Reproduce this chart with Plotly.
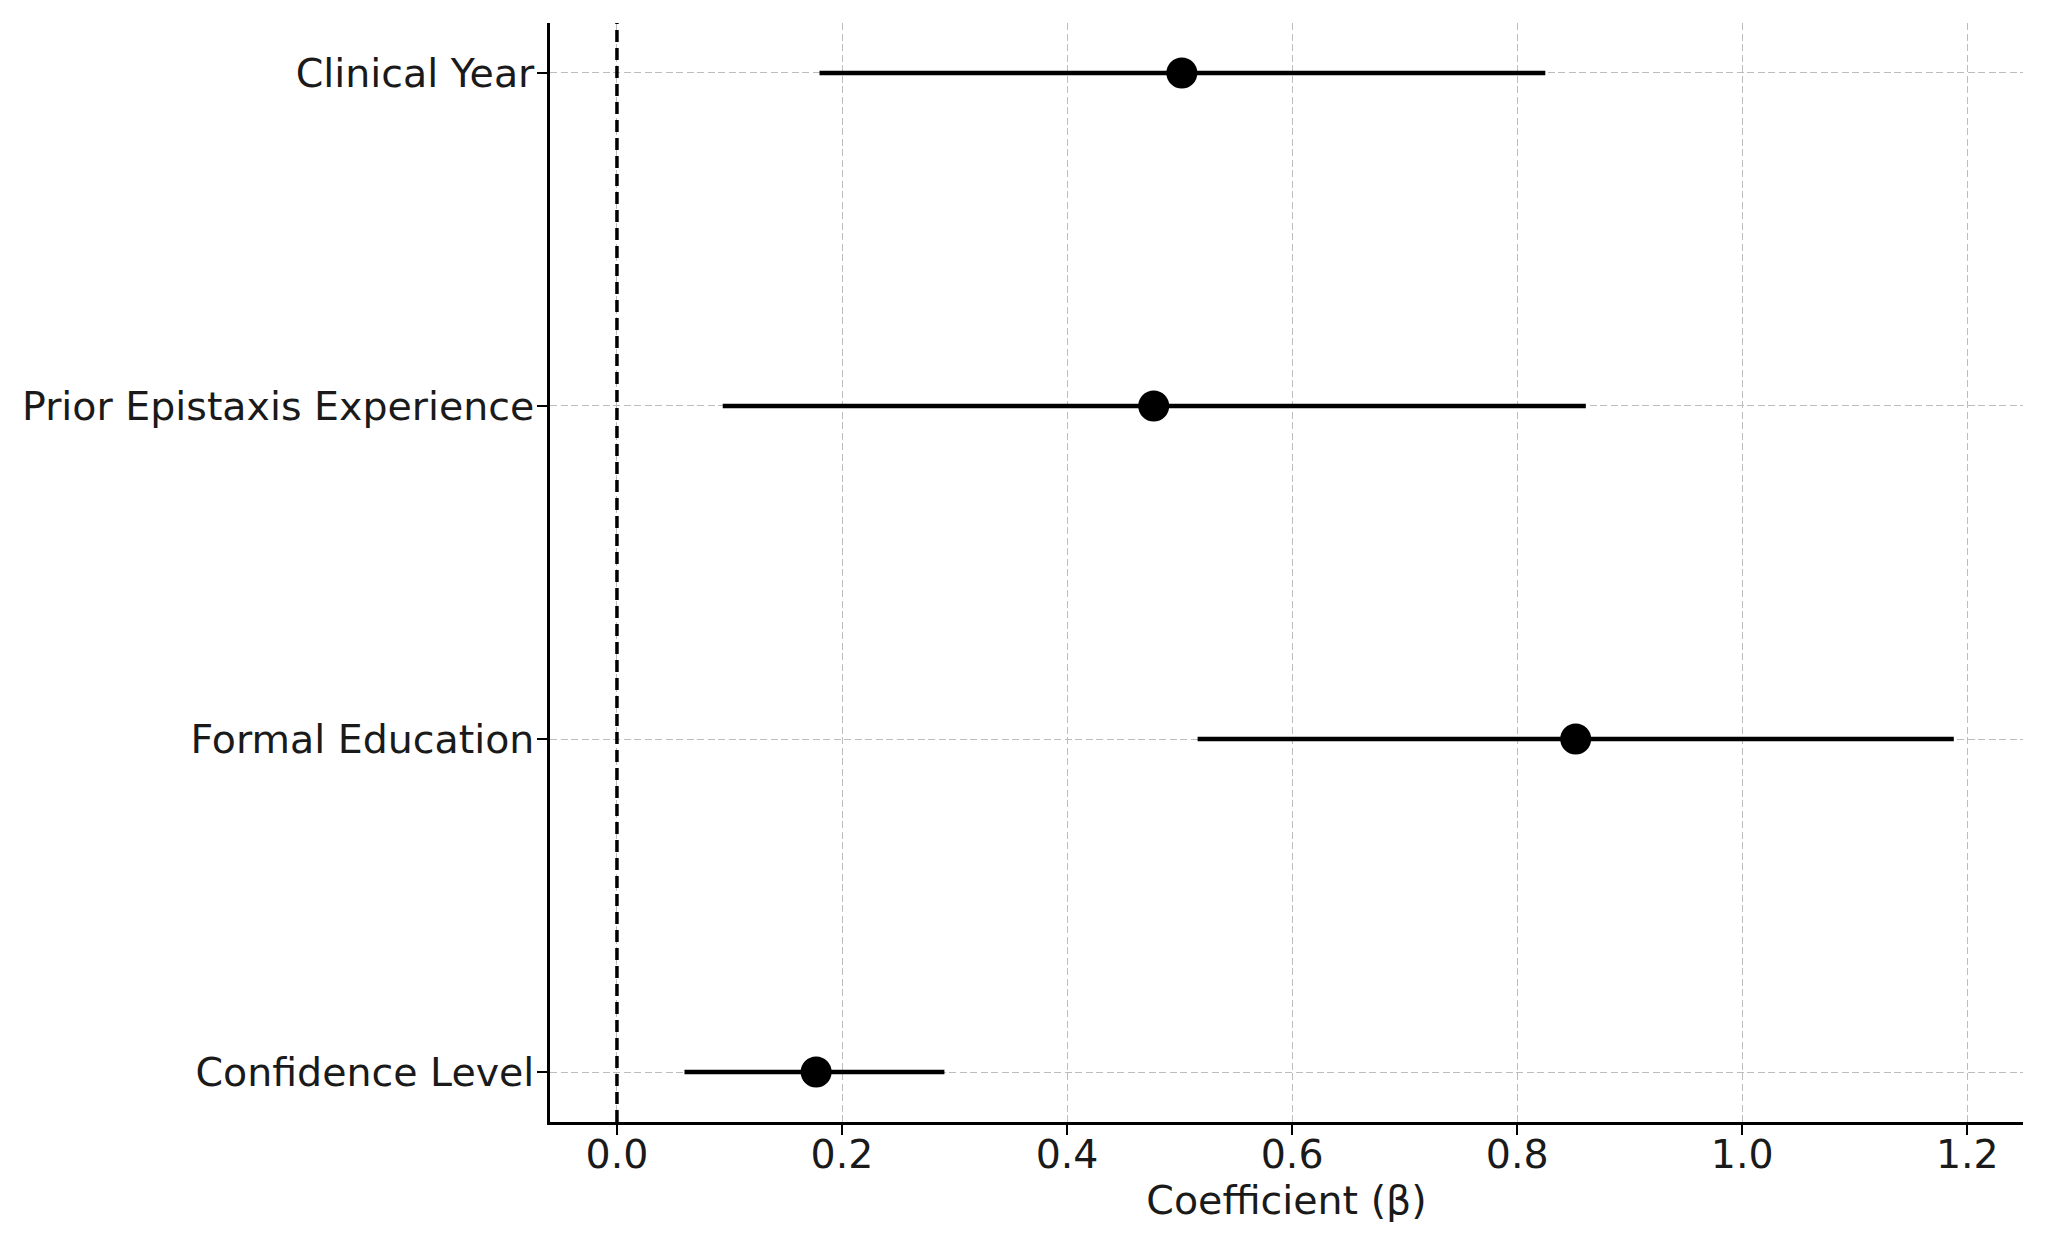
import plotly.graph_objects as go

categories = ["Confidence Level", "Formal Education", "Prior Epistaxis Experience", "Clinical Year"]
coef = [0.177, 0.852, 0.477, 0.502]
ci_low = [0.060, 0.516, 0.094, 0.180]
ci_high = [0.291, 1.188, 0.861, 0.825]
x_ticks = [0.0, 0.2, 0.4, 0.6, 0.8, 1.0, 1.2]

ypos = list(range(len(categories)))
err_plus = [h - c for h, c in zip(ci_high, coef)]
err_minus = [c - l for c, l in zip(coef, ci_low)]

FONT = "DejaVu Sans"
FS = 39.5
fig = go.Figure()

fig.add_trace(go.Scatter(
    x=coef, y=ypos, mode="markers",
    marker=dict(color="black", size=31),
    error_x=dict(type="data", symmetric=False, array=err_plus, arrayminus=err_minus,
                 color="black", thickness=4.5, width=0),
    showlegend=False,
))

fig.add_shape(type="line", x0=0, x1=0, y0=0, y1=1, xref="x", yref="paper",
              line=dict(color="black", width=3.5, dash="12px,6px"))

fig.update_layout(
    width=2048, height=1247,
    margin=dict(l=550, r=25, t=23, b=125),
    paper_bgcolor="white", plot_bgcolor="white",
    font=dict(family=FONT, size=FS, color="#1a1a1a"),
)
fig.update_xaxes(
    range=[-0.0595, 1.2495], tickvals=x_ticks, ticktext=[f"{v:.1f}" for v in x_ticks],
    showline=True, linecolor="black", linewidth=2.5, mirror=False,
    ticks="outside", ticklen=10, tickwidth=2.3, tickcolor="black",
    ticklabelstandoff=-14,
    showgrid=True, gridcolor="#bdbdbd", gridwidth=1.3, griddash="7px,3.5px",
    zeroline=False,
    title=dict(text="Coefficient (β)", font=dict(family=FONT, size=FS), standoff=8),
    tickfont=dict(family=FONT, size=FS),
)
fig.update_yaxes(
    range=[-0.15, 3.15], tickvals=ypos, ticktext=categories,
    showline=True, linecolor="black", linewidth=2.5, mirror=False,
    ticks="outside", ticklen=10, tickwidth=2.3, tickcolor="black",
    ticklabelstandoff=-5,
    showgrid=True, gridcolor="#bdbdbd", gridwidth=1.3, griddash="7px,3.5px",
    zeroline=False,
    tickfont=dict(family=FONT, size=FS),
)

fig.write_html("out.html")
